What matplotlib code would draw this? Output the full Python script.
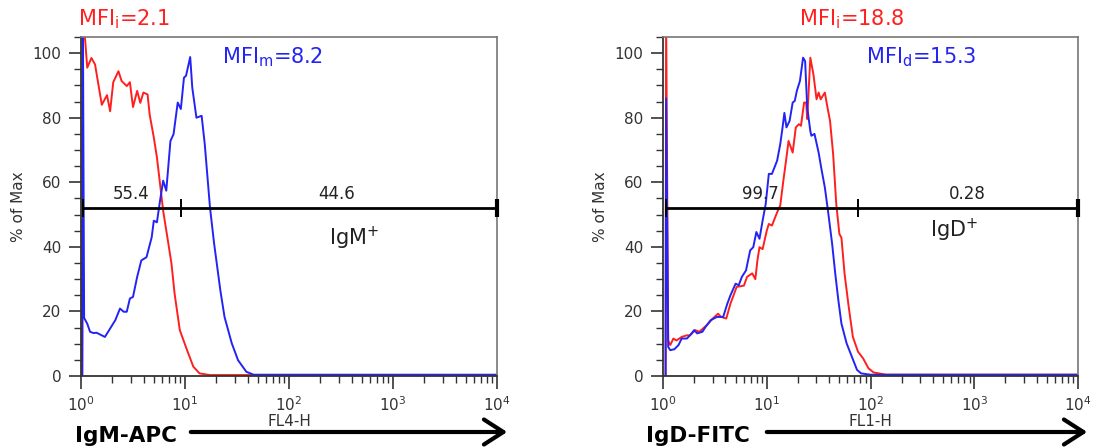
import numpy as np
import matplotlib
matplotlib.use('Agg')
import matplotlib.pyplot as plt
from matplotlib.ticker import MultipleLocator, LogLocator

plt.rcParams['font.family'] = ['DejaVu Sans']
plt.rcParams['mathtext.default'] = 'regular'

# ── histogram traces: x in decades (log10 of channel), y in % of max ──
igm_iso_log = [0.012, 0.018, 0.04, 0.06, 0.10, 0.135, 0.20, 0.25, 0.28, 0.31, 0.36, 0.39,
               0.44, 0.47, 0.50, 0.54, 0.57, 0.60, 0.64, 0.66, 0.70, 0.73, 0.76, 0.79,
               0.84, 0.87, 0.90, 0.95, 1.02, 1.08, 1.14, 1.24, 1.6, 4.0]
igm_iso_pct = [0, 112, 104, 95.5, 98.5, 96.5, 84, 87, 82, 91, 94.4, 91.4,
               89.8, 91, 83.3, 88.3, 84.6, 87.8, 87.2, 81, 73.9, 67.7, 59.5, 51.2,
               41, 34.8, 25.5, 14.2, 8, 2.9, 0.8, 0.3, 0.3, 0.3]

igm_log = [0.012, 0.018, 0.03, 0.06, 0.087, 0.12, 0.15, 0.23, 0.28, 0.33, 0.375, 0.41,
           0.44, 0.47, 0.50, 0.54, 0.58, 0.63, 0.68, 0.70, 0.73, 0.76, 0.79, 0.82,
           0.86, 0.89, 0.93, 0.96, 0.99, 1.01, 1.05, 1.07, 1.11, 1.16, 1.19, 1.24,
           1.28, 1.34, 1.38, 1.45, 1.51, 1.59, 1.66, 4.0]
igm_pct = [0, 112, 18, 16.2, 13.7, 13.3, 13.4, 12.1, 14.7, 17.3, 20.9, 19.9,
           19.9, 24, 24.5, 30.7, 35.8, 36.8, 43, 48.1, 47.6, 54.3, 60.5, 57.4,
           72.8, 74.9, 84.7, 82.7, 92.4, 93, 98.8, 89.3, 80, 80.6, 71.8, 52.3,
           41, 26.5, 18.3, 10.1, 4.9, 1.3, 0.4, 0.4]

igd_iso_log = [0.025, 0.03, 0.05, 0.07, 0.10, 0.13, 0.18, 0.23, 0.26, 0.31, 0.35, 0.42,
               0.48, 0.53, 0.56, 0.61, 0.65, 0.71, 0.78, 0.81, 0.86, 0.89, 0.91, 0.93,
               0.96, 1.00, 1.02, 1.05, 1.10, 1.13, 1.16, 1.19, 1.21, 1.25, 1.28, 1.31,
               1.33, 1.36, 1.38, 1.39, 1.42, 1.45, 1.48, 1.50, 1.52, 1.56, 1.58, 1.61,
               1.64, 1.67, 1.70, 1.72, 1.75, 1.79, 1.83, 1.88, 1.93, 1.98, 2.03, 2.15, 4.0]
igd_iso_pct = [0, 112, 11, 9.6, 11.6, 11, 12.1, 12.6, 12.6, 14.2, 13.7, 15.7,
               17.8, 19.3, 18.3, 17.8, 22.4, 27.6, 28, 30.7, 31.8, 30, 35.8, 39.9,
               39.3, 45, 47.1, 46.6, 50.7, 52.8, 60.5, 67.7, 72.8, 69.2, 77, 78,
               77.5, 84.7, 84.7, 79.6, 98.6, 93.4, 85.7, 87.8, 85.7, 87.8, 84.1, 79,
               68.7, 53.3, 44, 42.8, 31.7, 21.4, 12.1, 7.5, 5.4, 2.4, 1.1, 0.4, 0.4]

igd_log = [0.025, 0.03, 0.05, 0.07, 0.11, 0.15, 0.18, 0.23, 0.26, 0.30, 0.33, 0.38,
           0.41, 0.46, 0.52, 0.58, 0.62, 0.65, 0.70, 0.73, 0.76, 0.80, 0.84, 0.87,
           0.90, 0.93, 0.96, 0.99, 1.01, 1.02, 1.05, 1.10, 1.13, 1.15, 1.17, 1.19,
           1.22, 1.25, 1.27, 1.29, 1.32, 1.35, 1.37, 1.39, 1.42, 1.43, 1.46, 1.50,
           1.53, 1.56, 1.59, 1.63, 1.66, 1.69, 1.72, 1.77, 1.82, 1.87, 1.91, 2.0, 4.0]
igd_pct = [0, 86, 9, 8, 8.3, 9.6, 11.6, 11.6, 12.6, 14.2, 13.2, 13.7,
           15.2, 17.3, 18.3, 18.3, 22.4, 25, 28.6, 28.1, 30.7, 32.7, 38.9, 39.9,
           44.6, 42.5, 48.1, 53.3, 59.5, 62.6, 62.6, 66.7, 71.8, 76.4, 81.5, 77,
           79, 84.7, 85.2, 88.3, 91.4, 98.6, 97.5, 83.2, 75.9, 74.4, 75, 69.2,
           63.6, 58.4, 51.2, 41, 31.8, 23.5, 16.2, 10.1, 6, 1.9, 0.8, 0.4, 0.4]

# gates: (left end, split, right end) in channel units, gate height in %
gate_igm = [1.05, 9.1, 10000]
gate_igd = [1.07, 76, 10000]
gate_y = 52
pct_igm = ['55.4', '44.6']
pct_igd = ['99.7', '0.28']

RED = '#ff1f1f'
BLUE = '#2323f5'

W, H = 1099, 448
fig = plt.figure(figsize=(W / 100, H / 100), dpi=100)
ax1 = fig.add_axes([81 / W, 1 - 376 / H, 416 / W, 339 / H])
ax2 = fig.add_axes([663 / W, 1 - 376 / H, 415 / W, 339 / H])


def style(ax):
    ax.set_xscale('log')
    ax.set_xlim(1, 1e4)
    ax.set_ylim(0, 105)
    ax.yaxis.set_major_locator(MultipleLocator(20))
    ax.yaxis.set_minor_locator(MultipleLocator(5))
    ax.set_yticks(range(0, 101, 20))
    ax.xaxis.set_major_locator(LogLocator(base=10, numticks=10))
    ax.xaxis.set_minor_locator(LogLocator(base=10, subs=np.arange(2, 10), numticks=20))
    ax.tick_params(which='major', length=9, width=1.2, color='#333333',
                   labelsize=11, labelcolor='#333333', pad=5)
    ax.tick_params(which='minor', length=5, width=1.0, color='#333333')
    for s in ['left', 'bottom']:
        ax.spines[s].set_color('#333333')
        ax.spines[s].set_linewidth(1.3)
    for s in ['top', 'right']:
        ax.spines[s].set_color('#777777')
        ax.spines[s].set_linewidth(1.2)
    ax.set_ylabel('% of Max', fontsize=11, color='#333333')
    ax.yaxis.set_label_coords(-0.132, 0.5)


def gate(ax, g):
    ax.plot([g[0], g[2]], [gate_y, gate_y], color='black', lw=2, clip_on=False, zorder=4)
    ax.vlines(g[:2], gate_y - 2.7, gate_y + 2.7, color='black', lw=1.4, zorder=4)
    ax.vlines([g[2]], gate_y - 2.7, gate_y + 2.7, color='black', lw=3, clip_on=False, zorder=4)


# ── IgM panel ──
ax = ax1
style(ax)
ax.plot(10 ** np.array(igm_iso_log), igm_iso_pct, color=RED, lw=1.4)
ax.plot(10 ** np.array(igm_log), igm_pct, color=BLUE, lw=1.4)
gate(ax, gate_igm)
ax.text(10 ** 0.486, 56.5, pct_igm[0], fontsize=12, color='#222222', ha='center', va='center')
ax.text(10 ** 2.46, 56.5, pct_igm[1], fontsize=12, color='#222222', ha='center', va='center')
ax.text(10 ** 2.63, 42.5, 'IgM$^{+}$', fontsize=15, color='#222222', ha='center', va='center')
ax.text(10 ** 0.41, 110.5, 'MFI$_{i}$=2.1', fontsize=15, color=RED, ha='center', va='center', clip_on=False)
ax.text(10 ** 1.84, 98.6, 'MFI$_{m}$=8.2', fontsize=15, color=BLUE, ha='center', va='center')
ax.set_xlabel('FL4-H', fontsize=11, color='#333333', labelpad=0)

# ── IgD panel ──
ax = ax2
style(ax)
ax.plot(10 ** np.array(igd_iso_log), igd_iso_pct, color=RED, lw=1.4)
ax.plot(10 ** np.array(igd_log), igd_pct, color=BLUE, lw=1.4)
gate(ax, gate_igd)
ax.text(10 ** 0.935, 56.5, pct_igd[0], fontsize=12, color='#222222', ha='center', va='center')
ax.text(10 ** 2.93, 56.5, pct_igd[1], fontsize=12, color='#222222', ha='center', va='center')
ax.text(10 ** 2.81, 45.0, 'IgD$^{+}$', fontsize=15, color='#222222', ha='center', va='center')
ax.text(10 ** 1.82, 110.5, 'MFI$_{i}$=18.8', fontsize=15, color=RED, ha='center', va='center', clip_on=False)
ax.text(10 ** 2.49, 98.6, 'MFI$_{d}$=15.3', fontsize=15, color=BLUE, ha='center', va='center')
ax.set_xlabel('FL1-H', fontsize=11, color='#333333', labelpad=0)

# ── channel labels with arrows ──
fig.text(75 / W, 1 - 436 / H, 'IgM-APC', fontsize=15.5, fontweight='bold', ha='left', va='center')
fig.text(646 / W, 1 - 436 / H, 'IgD-FITC', fontsize=15.5, fontweight='bold', ha='left', va='center')
for x0, x1 in [(188, 510), (764, 1090)]:
    fig.patches.append(matplotlib.patches.FancyArrowPatch(
        (x0 / W, 1 - 432 / H), (x1 / W, 1 - 432 / H), transform=fig.transFigure,
        arrowstyle='->,head_length=0.7,head_width=0.45', mutation_scale=20,
        lw=3, color='black'))

fig.savefig('out.png', dpi=100)
